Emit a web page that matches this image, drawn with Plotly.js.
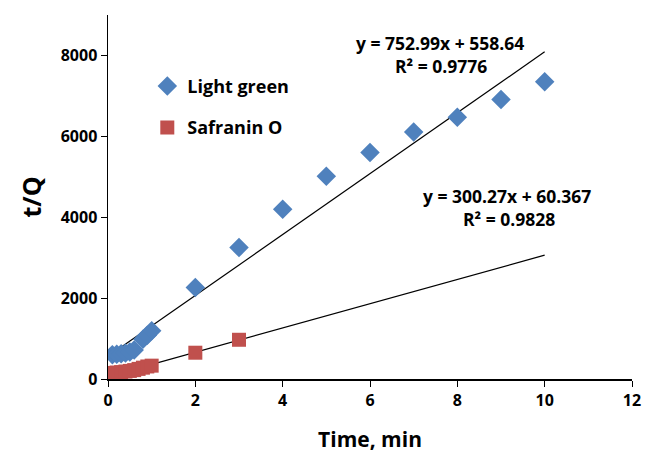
<!DOCTYPE html>
<html><head><meta charset="utf-8">
<script src="https://cdn.plot.ly/plotly-3.0.1.min.js"></script>
<style>body{margin:0;background:#fff}#chart{width:647px;height:455px}</style>
</head><body><div id="chart"></div>
<script>
const lightGreenX = [0.1,0.2,0.3,0.4,0.5,0.6,0.8,0.9,1.0,2,3,4,5,6,7,8,9,10];
const lightGreenY = [600,610,625,645,670,720,980,1080,1190,2260,3250,4200,5010,5600,6110,6470,6910,7350];
const safraninX = [0.1,0.2,0.3,0.4,0.5,0.6,0.7,0.8,0.9,1.0,2,3];
const safraninY = [150,160,170,185,200,220,250,280,310,330,650,970];
const fitLG = {slope:752.99, intercept:558.64, r2:'0.9776'};
const fitSO = {slope:300.27, intercept:60.367, r2:'0.9828'};
const fitLGRange = [0.1, 10];
const fitSORange = [0.1, 10];
const xTicks = [0,2,4,6,8,10,12];
const yTicks = [0,2000,4000,6000,8000];

function line(fit, r){ return {x:r, y:r.map(v=>fit.slope*v+fit.intercept)}; }
const l1 = line(fitLG, fitLGRange), l2 = line(fitSO, fitSORange);
const F = 'Open Sans, Liberation Sans, sans-serif';
const traces = [
 {x:l1.x,y:l1.y,mode:'lines',line:{color:'#000',width:1.2},showlegend:false,hoverinfo:'skip'},
 {x:l2.x,y:l2.y,mode:'lines',line:{color:'#000',width:1.2},showlegend:false,hoverinfo:'skip'},
 {x:lightGreenX,y:lightGreenY,mode:'markers',name:'Light green',legendgroup:'a',marker:{symbol:'diamond',size:15,color:'#4F81BD'}},
 {x:safraninX,y:safraninY,mode:'markers',name:'Safranin O',legendgroup:'b',marker:{symbol:'square',size:14,color:'#C0504D'}}
];
const ann = (cx, cy, text) => ({xref:'paper',yref:'paper',x:(cx-108)/524,y:(379-cy)/364,xanchor:'center',yanchor:'middle',
  text:text,showarrow:false,font:{size:17.5,family:F}});
const layout = {
 width:647,height:455,margin:{l:108,r:15,t:15,b:76},
 paper_bgcolor:'#fff',plot_bgcolor:'#fff',
 font:{family:F,color:'#000'},
 xaxis:{range:[0,12],tickvals:xTicks,showgrid:false,zeroline:false,showline:true,linecolor:'#000',linewidth:1.5,
   ticks:'outside',ticklen:6,tickcolor:'#000',tickfont:{size:16,family:F,weight:'bold'},
   title:{text:'<b>Time, min</b>',font:{size:21,family:F},standoff:22}},
 yaxis:{range:[0,9000],tickvals:yTicks,showgrid:false,zeroline:false,showline:true,linecolor:'#000',linewidth:1.5,
   ticks:'outside',ticklen:6,tickcolor:'#000',tickfont:{size:16,family:F,weight:'bold'},
   title:{text:'<b>t/Q</b>',font:{size:25,family:F},standoff:12}},
 legend:{x:0.075,y:0.855,xanchor:'left',yanchor:'top',traceorder:'grouped',font:{size:18,family:F,weight:'bold'},tracegroupgap:15,bgcolor:'rgba(0,0,0,0)',itemwidth:30},
 annotations:[
  ann(440, 43, `<b>y = ${fitLG.slope}x + ${fitLG.intercept}</b>`),
  ann(441, 66, `<b>R² = ${fitLG.r2}</b>`),
  ann(507, 196, `<b>y = ${fitSO.slope}x + ${fitSO.intercept}</b>`),
  ann(509, 219, `<b>R² = ${fitSO.r2}</b>`)
 ]
};
Plotly.newPlot('chart',traces,layout,{displayModeBar:false,staticPlot:true});
</script></body></html>
